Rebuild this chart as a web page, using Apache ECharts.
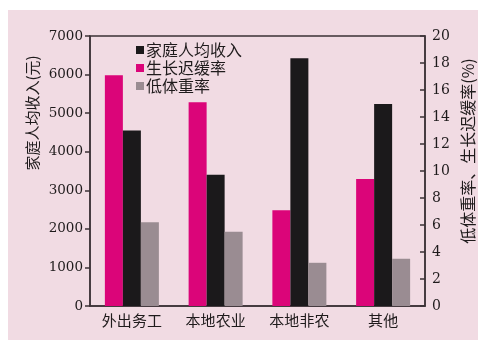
<!DOCTYPE html>
<html>
<head>
<meta charset="utf-8">
<script src="https://cdn.jsdelivr.net/npm/echarts@6/dist/echarts.min.js"></script>
<style>
  html, body { margin: 0; padding: 0; background: #fff; }
  #bg { position: absolute; left: 8px; top: 10px; width: 470px; height: 330px; background: #f1dbe3; }
  #chart { position: absolute; left: 0; top: 0; width: 478px; height: 340px; }
</style>
</head>
<body>
<div id="bg"></div>
<div id="chart"></div>
<script>
  // 就业类型
  var categories = ['外出务工', '本地农业', '本地非农', '其他'];
  // 家庭人均收入（元）
  var income = [4550, 3400, 6420, 5240];
  // 生长迟缓率（%）
  var stunting = [17.1, 15.1, 7.1, 9.4];
  // 低体重率（%）
  var underweight = [6.2, 5.5, 3.2, 3.5];

  var leftTicks = { min: 0, max: 7000, interval: 1000 };
  var rightTicks = { min: 0, max: 20, interval: 2 };

  var numFont = 'DejaVu Serif';
  var cjkFont = 'Noto Sans CJK SC';
  var ink = '#1f1b1c';
  var axisColor = '#3b3236';

  var myChart = echarts.init(document.getElementById('chart'));

  var option = {
    backgroundColor: 'transparent',
    animation: false,
    grid: {
      left: 90,
      right: 53,
      top: 36,
      bottom: 34,
      show: true,
      borderColor: axisColor,
      borderWidth: 1.5,
      backgroundColor: 'transparent'
    },
    legend: {
      orient: 'vertical',
      left: 136,
      top: 42,
      padding: 0,
      itemWidth: 8,
      itemHeight: 8,
      itemGap: 2,
      icon: 'rect',
      data: ['家庭人均收入', '生长迟缓率', '低体重率'],
      textStyle: { fontFamily: cjkFont, fontSize: 16, color: ink, padding: [0, 0, 0, -3] }
    },
    xAxis: {
      type: 'category',
      data: categories,
      axisLine: { lineStyle: { color: axisColor, width: 1.5 } },
      axisTick: { inside: true, length: 4, lineStyle: { color: axisColor, width: 1.5 } },
      axisLabel: { fontFamily: cjkFont, fontSize: 15, color: ink, margin: 7 }
    },
    yAxis: [
      {
        type: 'value',
        min: leftTicks.min,
        max: leftTicks.max,
        interval: leftTicks.interval,
        axisLine: { show: true, lineStyle: { color: axisColor, width: 1.5 } },
        axisTick: { show: true, length: 5, lineStyle: { color: axisColor, width: 1.5 } },
        axisLabel: {
          fontFamily: numFont, fontSize: 13.5, color: ink, margin: 7,
          formatter: function (v) { return String(v); }
        },
        splitLine: { show: false }
      },
      {
        type: 'value',
        position: 'right',
        min: rightTicks.min,
        max: rightTicks.max,
        interval: rightTicks.interval,
        axisLine: { show: true, lineStyle: { color: axisColor, width: 1.5 } },
        axisTick: { show: true, inside: true, length: 5, lineStyle: { color: axisColor, width: 1.5 } },
        axisLabel: {
          fontFamily: numFont, fontSize: 14, color: ink, margin: 7,
          formatter: function (v) { return String(v); }
        },
        splitLine: { show: false }
      }
    ],
    graphic: [
      {
        type: 'text',
        x: 32, y: 113,
        rotation: Math.PI / 2,
        style: {
          text: '家庭人均收入(元)',
          font: '15px "Noto Sans CJK SC"',
          fill: ink,
          align: 'center',
          verticalAlign: 'middle'
        }
      },
      {
        type: 'text',
        x: 468, y: 151,
        rotation: Math.PI / 2,
        style: {
          text: '低体重率、生长迟缓率(%)',
          font: '16px "Noto Sans CJK SC"',
          fill: ink,
          align: 'center',
          verticalAlign: 'middle'
        }
      }
    ],
    series: [
      {
        name: '生长迟缓率',
        type: 'bar',
        yAxisIndex: 1,
        barWidth: 18,
        barGap: '0%',
        itemStyle: { color: '#db0579' },
        data: stunting
      },
      {
        name: '家庭人均收入',
        type: 'bar',
        yAxisIndex: 0,
        barWidth: 18,
        barGap: '0%',
        itemStyle: { color: '#1b191b' },
        data: income
      },
      {
        name: '低体重率',
        type: 'bar',
        yAxisIndex: 1,
        barWidth: 18,
        barGap: '0%',
        itemStyle: { color: '#9a8c92' },
        data: underweight
      }
    ]
  };

  myChart.setOption(option);
</script>
</body>
</html>
